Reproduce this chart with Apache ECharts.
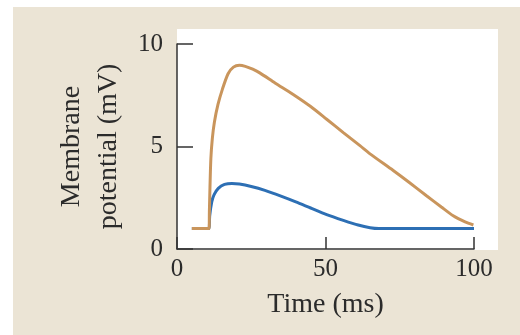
<!DOCTYPE html>
<html>
<head>
<meta charset="utf-8">
<script src="https://cdn.jsdelivr.net/npm/echarts@6/dist/echarts.min.js"></script>
<style>
html,body{margin:0;padding:0;background:#ffffff;}
#chart{width:520px;height:335px;}
</style>
</head>
<body>
<div id="chart"></div>
<script>
// Time (ms) vs membrane potential (mV)
const xTicks = [0, 50, 100];
const yTicks = [0, 5, 10];
const orangeTime = [5, 10.8, 10.9, 11.1, 11.4, 11.9, 12.6, 13.8, 15.3, 17.2, 19, 21, 23, 25.5, 28, 33, 39, 45, 50.4, 56, 61.6, 65, 72.8, 78, 84, 89, 93, 97, 99.8];
const orangeValues = [1.0, 1.0, 1.8, 3.0, 4.4, 5.4, 6.2, 7.05, 7.8, 8.55, 8.87, 8.96, 8.91, 8.77, 8.58, 8.1, 7.55, 6.95, 6.33, 5.68, 5.04, 4.64, 3.83, 3.27, 2.6, 2.05, 1.62, 1.32, 1.17];
const blueTime = [5, 10.8, 11.0, 11.7, 12.5, 13.9, 16, 18.5, 21, 25, 29.6, 35, 40, 45, 50.4, 56, 61, 65, 68, 80, 90, 100];
const blueValues = [1.0, 1.0, 1.6, 2.3, 2.65, 2.96, 3.15, 3.2, 3.17, 3.05, 2.86, 2.58, 2.3, 2.0, 1.68, 1.4, 1.17, 1.04, 1.0, 1.0, 1.0, 1.0];

const pair = (xs, ys) => xs.map((x, i) => [x, ys[i]]);
const font = 'Liberation Serif';
const textColor = '#2b2b2b';

const chart = echarts.init(document.getElementById('chart'), null, {renderer: 'canvas'});
chart.setOption({
  backgroundColor: '#ffffff',
  animation: false,
  graphic: [
    {type: 'rect', z: -10, silent: true, shape: {x: 13, y: 7, width: 507, height: 328}, style: {fill: '#ebe4d5'}},
    {type: 'rect', z: -9, silent: true, shape: {x: 177, y: 29, width: 321, height: 221}, style: {fill: '#ffffff'}}
  ],
  grid: {left: 177, top: 44, right: 46, bottom: 86, containLabel: false},
  xAxis: {
    type: 'value', min: xTicks[0], max: xTicks[xTicks.length - 1], interval: 50,
    name: 'Time (ms)', nameLocation: 'middle', nameGap: 42,
    nameTextStyle: {fontFamily: font, fontSize: 28, color: textColor},
    axisLine: {lineStyle: {color: '#333', width: 1.5}},
    axisTick: {inside: true, length: 12, lineStyle: {color: '#333', width: 1.5}},
    axisLabel: {fontFamily: font, fontSize: 25, color: textColor, margin: 8},
    splitLine: {show: false}
  },
  yAxis: {
    type: 'value', min: yTicks[0], max: yTicks[yTicks.length - 1], interval: 5,
    name: 'Membrane\npotential (mV)', nameLocation: 'middle', nameGap: 48,
    nameTextStyle: {fontFamily: font, fontSize: 28, color: textColor, lineHeight: 37},
    axisLine: {show: true, lineStyle: {color: '#333', width: 1.5}},
    axisTick: {show: true, inside: true, length: 16, lineStyle: {color: '#333', width: 1.5}},
    axisLabel: {fontFamily: font, fontSize: 25, color: textColor, margin: 14},
    splitLine: {show: false}
  },
  series: [
    {type: 'line', data: pair(blueTime, blueValues), smooth: 0.25, showSymbol: false, lineStyle: {color: '#2d6fb4', width: 3}, z: 2},
    {type: 'line', data: pair(orangeTime, orangeValues), smooth: 0.25, showSymbol: false, lineStyle: {color: '#c9955c', width: 3}, z: 3}
  ]
});
</script>
</body>
</html>
